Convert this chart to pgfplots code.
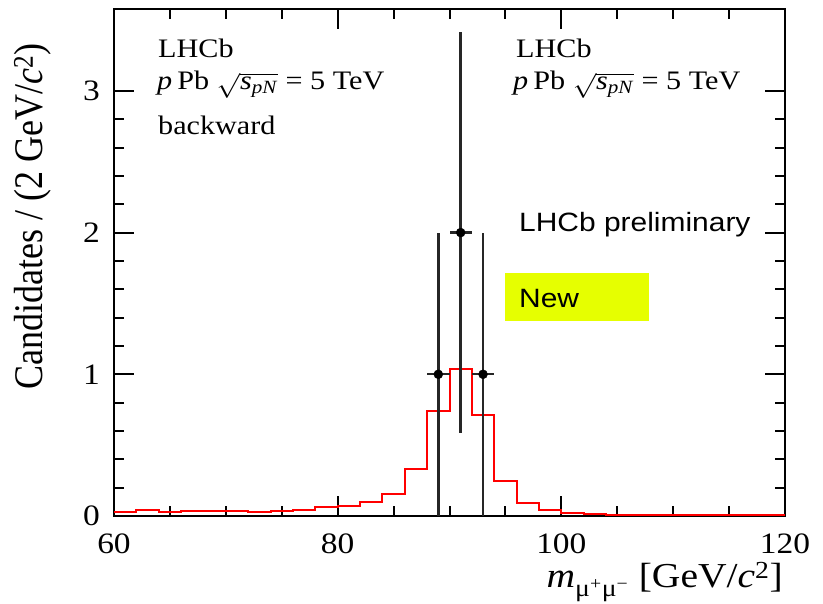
\documentclass[border=0pt]{standalone}
\usepackage{fontspec}
\setmainfont{Liberation Serif}
\newfontfamily\arialfont{Liberation Sans}
\usepackage{amsmath}
\usepackage{pgfplots}
\pgfplotsset{compat=1.18}
\definecolor{newyellow}{RGB}{230,255,0}
\begin{document}
\begin{tikzpicture}
\useasboundingbox (0,0) rectangle (823pt,604pt);
\begin{axis}[
  at={(114pt,88pt)}, anchor=south west,
  scale only axis, width=671pt, height=507pt,
  xmin=60, xmax=120, ymin=0, ymax=3.578,
  axis line style={line width=2.2pt},
  xtick={60,80,100,120}, minor x tick num=3,
  ytick={0,1,2,3}, minor y tick num=4,
  tick align=inside,
  major tick length=20pt, minor tick length=10pt,
  every tick/.style={line width=2pt, black},
  /pgf/number format/assume math mode=true,
  tick label style={font=\fontsize{29.6}{30}\selectfont, xscale=1.13},
  xticklabel style={yshift=-14pt},
  yticklabel style={xshift=-9pt},
  clip=false,
]
\addplot[const plot, red, line width=2pt] coordinates {
(60,0.030) (62,0.040) (64,0.028) (66,0.035) (68,0.033) (70,0.033)
(72,0.031) (74,0.037) (76,0.045) (78,0.061) (80,0.073) (82,0.099)
(84,0.155) (86,0.334) (88,0.743) (90,1.035) (92,0.710) (94,0.247)
(96,0.092) (98,0.040) (100,0.023) (102,0.014) (104,0.007) (106,0.005)
(108,0.004) (110,0.004) (112,0.004) (114,0.004) (116,0.004) (118,0.004)
(120,0.004)
};
\addplot[only marks, mark=*, mark size=4.5pt, black,
  error bars/.cd, x dir=both, x explicit, y dir=both, y explicit,
  error mark=none,
  error bar style={line width=2.4pt, black!85}]
coordinates {
(89,1) +- (1,1)
(91,2) +- (1,1.414)
(93,1) +- (1,1)
};
\end{axis}
\fill[newyellow] (505pt,283pt) rectangle (649pt,331pt);
\begin{scope}[every node/.style={inner sep=0pt, xscale=1.13}]
\node[anchor=base west, font=\fontsize{26.7}{28}\selectfont] at (158pt,546pt) {LHCb};
\node[anchor=base west, font=\fontsize{26.7}{28}\selectfont] at (157pt,514pt) {\textit{p}\,Pb $\sqrt{\text{\textit{s}}_{\text{\textit{pN}}}}$ = 5 TeV};
\node[anchor=base west, font=\fontsize{26.7}{28}\selectfont] at (158pt,469pt) {backward};
\node[anchor=base west, font=\fontsize{26.7}{28}\selectfont] at (516pt,546pt) {LHCb};
\node[anchor=base west, font=\fontsize{26.7}{28}\selectfont] at (513pt,514pt) {\textit{p}\,Pb $\sqrt{\text{\textit{s}}_{\text{\textit{pN}}}}$ = 5 TeV};
\node[anchor=base west, font=\arialfont\fontsize{26.5}{28}\selectfont] at (519pt,372pt) {LHCb preliminary};
\node[anchor=base west, font=\arialfont\fontsize{26.5}{28}\selectfont] at (519pt,296pt) {New};
\node[anchor=base east, font=\fontsize{35}{36}\selectfont] at (783pt,16pt) {\textit{m}$_{\text{μ}^{\text{+}}\text{μ}^{\text{−}}}$ [GeV/\textit{c}$^{\text{2}}$]};
\node[anchor=base west, rotate=90, font=\fontsize{36}{38}\selectfont] at (43pt,214pt) {Candidates / (2 GeV/\textit{c}$^{\text{2}}$)};
\end{scope}
\end{tikzpicture}
\end{document}
